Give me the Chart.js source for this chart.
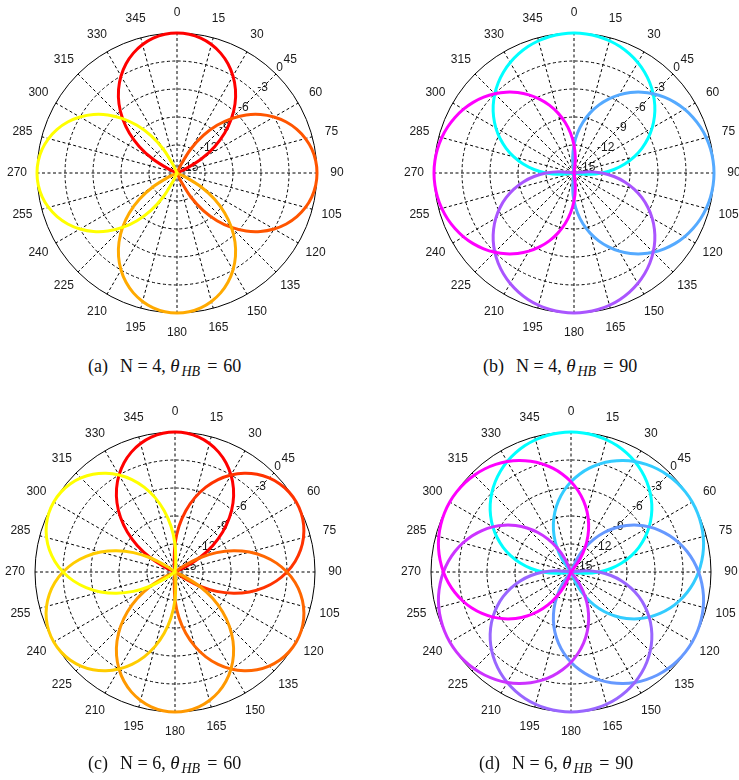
<!DOCTYPE html>
<html lang="en">
<head>
<meta charset="UTF-8">
<title>Beam patterns</title>
<script src="https://cdn.jsdelivr.net/npm/chart.js"></script>
<style>
  body { margin: 0; background: #fff; width: 739px; height: 780px; position: relative; overflow: hidden; }
  canvas { position: absolute; }
  .cap { position: absolute; text-align: left; font-family: "Liberation Serif", serif; font-size: 18px; line-height: 20px; color: #111; white-space: nowrap; }
  .cap .lab { margin-right: 12px; }
  .cap .th { font-size: 19px; margin-right: 2px; }
  .cap .sub { font-size: 14px; font-style: italic; position: relative; top: 4px; }
  .cap .eq { margin: 0 6px 0 7px; }
</style>
</head>
<body>

<canvas id="pa" width="369" height="350" style="left:0;top:0"></canvas>
<canvas id="pb" width="369" height="350" style="left:370px;top:0"></canvas>
<canvas id="pc" width="369" height="380" style="left:0;top:399px"></canvas>
<canvas id="pd" width="369" height="380" style="left:370px;top:399px"></canvas>

<div class="cap" style="left:88px;top:356px"><span class="lab">(a)</span>N = 4, <i class="th">θ</i><span class="sub">HB</span><span class="eq">=</span>60</div>
<div class="cap" style="left:483px;top:356px"><span class="lab">(b)</span>N = 4, <i class="th">θ</i><span class="sub">HB</span><span class="eq">=</span>90</div>
<div class="cap" style="left:88px;top:753px"><span class="lab">(c)</span>N = 6, <i class="th">θ</i><span class="sub">HB</span><span class="eq">=</span>60</div>
<div class="cap" style="left:479px;top:753px"><span class="lab">(d)</span>N = 6, <i class="th">θ</i><span class="sub">HB</span><span class="eq">=</span>90</div>

<script>
// angle labels round the rim and the dB rings
const angleLabels = [0, 15, 30, 45, 60, 75, 90, 105, 120, 135, 150, 165, 180, 195, 210, 225, 240, 255, 270, 285, 300, 315, 330, 345];
const ringTicks = [0, -3, -6, -9, -12, -15];

// beam gain (dB), every 5 deg away from the beam axis
const beam60 = [0, -0.08, -0.33, -0.75, -1.33, -2.08, -3.0, -4.08, -5.33, -6.75, -8.33, -10.08, -12.0, -14.08, -15];
const beam90 = [0, -0.04, -0.15, -0.33, -0.59, -0.93, -1.33, -1.81, -2.37, -3.0, -3.7, -4.48, -5.33, -6.26, -7.26, -8.33, -9.48, -10.7, -12.0, -13.37, -14.81, -15];

// beam pointing directions
const beamsA = [0, 90, 180, 270];
const beamsB = [0, 90, 180, 270];
const beamsC = [0, 60, 120, 180, 240, 300];
const beamsD = [0, 60, 120, 180, 240, 300];

// colours (autumn / cool maps)
const autumn4 = ['#ff0000', '#ff5500', '#ffaa00', '#ffff00'];
const cool4 = ['#00ffff', '#55aaff', '#aa55ff', '#ff00ff'];
const autumn6 = ['#ff0000', '#ff3300', '#ff6600', '#ff9900', '#ffcc00', '#ffff00'];
const cool6 = ['#00ffff', '#33ccff', '#6699ff', '#9966ff', '#cc33ff', '#ff00ff'];

const step = 5;
const sampleAngles = [];
for (let a = 0; a < 360; a += step) sampleAngles.push(a);

// look the read pattern up for every sample angle around one beam axis
function beamSeries(center, shape) {
    return sampleAngles.map(a => {
        let d = Math.abs(a - center) % 360;
        if (d > 180) d = 360 - d;
        const k = d / step;
        return k < shape.length ? shape[k] : shape[shape.length - 1];
    });
}

// rim labels and ring labels drawn with the scale's own geometry
const polarText = {
    id: 'polarText',
    beforeDatasetsDraw(chart) {
        const s = chart.scales.r;
        const ctx = chart.ctx;
        ctx.save();
        ctx.font = '12px "Liberation Sans", Arial, sans-serif';
        ctx.fillStyle = '#1a1a1a';
        ctx.textBaseline = 'middle';
        ctx.textAlign = 'left';
        ringTicks.forEach(v => {
            const r = s.getDistanceFromCenterForValue(v);
            ctx.fillText(String(v), s.xCenter + r * 0.68 + 4, s.yCenter - r * 0.714 - 5.5);
        });
        ctx.textAlign = 'center';
        angleLabels.forEach(a => {
            const p = s.getPointPosition(sampleAngles.indexOf(a), s.drawingArea + 20);
            ctx.fillText(String(a), p.x, p.y);
        });
        ctx.restore();
    }
};

function drawPanel(id, beams, shape, colors, pad) {
    const datasets = beams.map((c, i) => ({
        data: beamSeries(c, shape),
        borderColor: colors[i],
        borderWidth: 3,
        pointRadius: 0,
        fill: false,
        tension: 0.3,
        order: -i
    }));
    new Chart(document.getElementById(id), {
        type: 'radar',
        data: { labels: sampleAngles, datasets: datasets },
        options: {
            responsive: false,
            animation: false,
            events: [],
            layout: { padding: pad },
            plugins: { legend: { display: false }, tooltip: { enabled: false } },
            scales: {
                r: {
                    min: -15,
                    max: 0,
                    ticks: { display: false, stepSize: 3 },
                    pointLabels: { display: false },
                    grid: { circular: true, color: '#000', lineWidth: 1 },
                    border: { dash: ctx => (ctx.tick && ctx.tick.value === 0) ? [] : [3, 2.5] },
                    angleLines: {
                        display: true,
                        color: '#000',
                        lineWidth: ctx => (ctx.index % 3 === 0 ? 1 : 0),
                        borderDash: [3, 2.5]
                    }
                }
            }
        },
        plugins: [polarText]
    });
}

drawPanel('pa', beamsA, beam60, autumn4, { left: 37, right: 52, top: 33, bottom: 37 });
drawPanel('pb', beamsB, beam90, cool4, { left: 64, right: 25, top: 33, bottom: 37 });
drawPanel('pc', beamsC, beam60, autumn6, { left: 35, right: 54, top: 33, bottom: 67 });
drawPanel('pd', beamsD, beam90, cool6, { left: 61, right: 28, top: 33, bottom: 67 });
</script>
</body>
</html>
